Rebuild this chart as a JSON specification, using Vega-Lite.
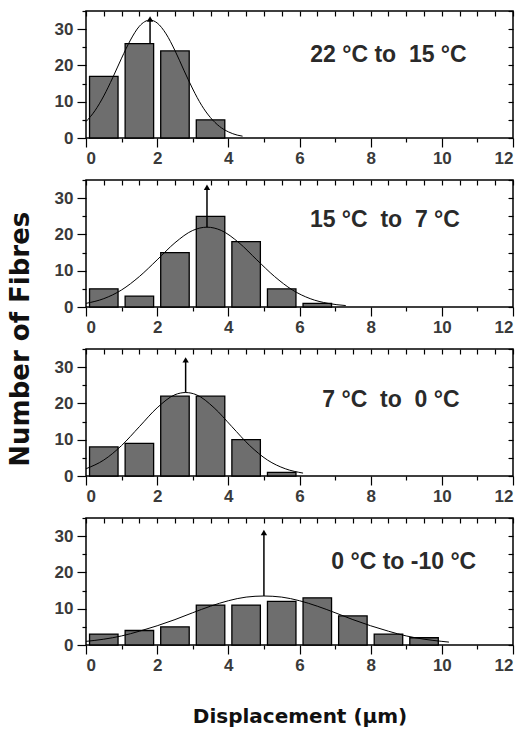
{
  "$schema": "https://vega.github.io/schema/vega-lite/v6.json",
  "padding": {"left": 8, "top": 9, "right": 4, "bottom": 2},
  "background": "white",
  "title": {"text": "Number of Fibres", "orient": "left", "anchor": "middle", "fontSize": 26, "fontWeight": "bold", "font": "DejaVu Sans", "color": "#111", "offset": 19, "dx": 29},
  "datasets": {
    "bars": [
      {"panel": 1, "mid": 0.5, "count": 17}, {"panel": 1, "mid": 1.5, "count": 26}, {"panel": 1, "mid": 2.5, "count": 24}, {"panel": 1, "mid": 3.5, "count": 5},
      {"panel": 2, "mid": 0.5, "count": 5}, {"panel": 2, "mid": 1.5, "count": 3}, {"panel": 2, "mid": 2.5, "count": 15}, {"panel": 2, "mid": 3.5, "count": 25}, {"panel": 2, "mid": 4.5, "count": 18}, {"panel": 2, "mid": 5.5, "count": 5}, {"panel": 2, "mid": 6.5, "count": 1},
      {"panel": 3, "mid": 0.5, "count": 8}, {"panel": 3, "mid": 1.5, "count": 9}, {"panel": 3, "mid": 2.5, "count": 22}, {"panel": 3, "mid": 3.5, "count": 22}, {"panel": 3, "mid": 4.5, "count": 10}, {"panel": 3, "mid": 5.5, "count": 1},
      {"panel": 4, "mid": 0.5, "count": 3}, {"panel": 4, "mid": 1.5, "count": 4}, {"panel": 4, "mid": 2.5, "count": 5}, {"panel": 4, "mid": 3.5, "count": 11}, {"panel": 4, "mid": 4.5, "count": 11}, {"panel": 4, "mid": 5.5, "count": 12}, {"panel": 4, "mid": 6.5, "count": 13}, {"panel": 4, "mid": 7.5, "count": 8}, {"panel": 4, "mid": 8.5, "count": 3}, {"panel": 4, "mid": 9.5, "count": 2}
    ],
    "curve": [
      {"panel": 1, "x": 0, "y": 4.5}, {"panel": 1, "x": 0.25, "y": 7.5}, {"panel": 1, "x": 0.5, "y": 11.6}, {"panel": 1, "x": 0.75, "y": 16.6}, {"panel": 1, "x": 1.0, "y": 22}, {"panel": 1, "x": 1.25, "y": 27}, {"panel": 1, "x": 1.5, "y": 30.8}, {"panel": 1, "x": 1.8, "y": 32.5}, {"panel": 1, "x": 2.0, "y": 31.7}, {"panel": 1, "x": 2.25, "y": 28.7}, {"panel": 1, "x": 2.5, "y": 24.1}, {"panel": 1, "x": 2.75, "y": 18.7}, {"panel": 1, "x": 3.0, "y": 13.5}, {"panel": 1, "x": 3.25, "y": 9}, {"panel": 1, "x": 3.5, "y": 5.6}, {"panel": 1, "x": 3.75, "y": 3.2}, {"panel": 1, "x": 4.0, "y": 1.7}, {"panel": 1, "x": 4.25, "y": 0.8}, {"panel": 1, "x": 4.4, "y": 0.5},
      {"panel": 2, "x": 0, "y": 1.0}, {"panel": 2, "x": 0.5, "y": 2.3}, {"panel": 2, "x": 1.0, "y": 4.7}, {"panel": 2, "x": 1.5, "y": 8.4}, {"panel": 2, "x": 2.0, "y": 13.0}, {"panel": 2, "x": 2.5, "y": 17.7}, {"panel": 2, "x": 3.0, "y": 21.1}, {"panel": 2, "x": 3.4, "y": 22}, {"panel": 2, "x": 3.8, "y": 21.1}, {"panel": 2, "x": 4.3, "y": 17.7}, {"panel": 2, "x": 4.8, "y": 13.0}, {"panel": 2, "x": 5.3, "y": 8.4}, {"panel": 2, "x": 5.8, "y": 4.7}, {"panel": 2, "x": 6.3, "y": 2.3}, {"panel": 2, "x": 6.8, "y": 1.0}, {"panel": 2, "x": 7.3, "y": 0.4},
      {"panel": 3, "x": 0, "y": 2.0}, {"panel": 3, "x": 0.5, "y": 4.4}, {"panel": 3, "x": 1.0, "y": 8.4}, {"panel": 3, "x": 1.5, "y": 13.6}, {"panel": 3, "x": 2.0, "y": 18.8}, {"panel": 3, "x": 2.5, "y": 22.4}, {"panel": 3, "x": 2.8, "y": 23}, {"panel": 3, "x": 3.1, "y": 22.4}, {"panel": 3, "x": 3.6, "y": 18.8}, {"panel": 3, "x": 4.1, "y": 13.6}, {"panel": 3, "x": 4.6, "y": 8.4}, {"panel": 3, "x": 5.1, "y": 4.4}, {"panel": 3, "x": 5.6, "y": 2.0}, {"panel": 3, "x": 6.1, "y": 0.8},
      {"panel": 4, "x": 0, "y": 1.0}, {"panel": 4, "x": 0.5, "y": 1.6}, {"panel": 4, "x": 1.0, "y": 2.5}, {"panel": 4, "x": 1.5, "y": 3.8}, {"panel": 4, "x": 2.0, "y": 5.3}, {"panel": 4, "x": 2.5, "y": 7.0}, {"panel": 4, "x": 3.0, "y": 8.9}, {"panel": 4, "x": 3.5, "y": 10.7}, {"panel": 4, "x": 4.0, "y": 12.2}, {"panel": 4, "x": 4.5, "y": 13.2}, {"panel": 4, "x": 5.0, "y": 13.5}, {"panel": 4, "x": 5.5, "y": 13.2}, {"panel": 4, "x": 6.0, "y": 12.2}, {"panel": 4, "x": 6.5, "y": 10.7}, {"panel": 4, "x": 7.0, "y": 8.9}, {"panel": 4, "x": 7.5, "y": 7.0}, {"panel": 4, "x": 8.0, "y": 5.3}, {"panel": 4, "x": 8.5, "y": 3.8}, {"panel": 4, "x": 9.0, "y": 2.5}, {"panel": 4, "x": 9.5, "y": 1.6}, {"panel": 4, "x": 10.0, "y": 1.0}, {"panel": 4, "x": 10.2, "y": 0.8}
    ],
    "arrows": [
      {"panel": 1, "x": 1.8, "y0": 26, "y1": 32.8},
      {"panel": 2, "x": 3.4, "y0": 22, "y1": 33},
      {"panel": 3, "x": 2.8, "y0": 23, "y1": 32},
      {"panel": 4, "x": 5.0, "y0": 13.5, "y1": 31}
    ],
    "labels": [
      {"panel": 1, "x": 8.5, "y": 23, "label": "22 °C to\u00a0 15 °C"},
      {"panel": 2, "x": 8.4, "y": 24, "label": "15 °C\u00a0 to\u00a0 7 °C"},
      {"panel": 3, "x": 8.57, "y": 21, "label": "7 °C\u00a0 to\u00a0 0 °C"},
      {"panel": 4, "x": 8.93, "y": 23, "label": "0 °C to -10 °C"}
    ]
  },
  "spacing": 11,
  "vconcat": [
    {
      "width": 427, "height": 127,
      "resolve": {"axis": {"x": "independent", "y": "independent"}},
      "layer": [
        {"data": {"name": "bars"}, "transform": [{"filter": "datum.panel == 1"}],
         "mark": {"type": "bar", "size": 28.5, "orient": "vertical", "fill": "#6e6e6e", "stroke": "black", "strokeWidth": 1.3},
         "encoding": {
           "x": {"field": "mid", "type": "quantitative", "scale": {"domain": [0, 12], "nice": false, "zero": false, "padding": 0}, "axis": {"values": [0,2,4,6,8,10,12], "tickSize": 9, "labelPadding": 3, "title": null}},
           "y": {"field": "count", "type": "quantitative", "scale": {"domain": [0, 35], "nice": false, "padding": 0}, "axis": {"values": [0,10,20,30], "tickSize": 9, "labelPadding": 4, "title": null}}
         }},
        {"data": {"name": "curve"}, "transform": [{"filter": "datum.panel == 1"}],
         "mark": {"type": "line", "interpolate": "monotone", "color": "black", "strokeWidth": 1},
         "encoding": {
           "x": {"field": "x", "type": "quantitative", "axis": {"orient": "top", "values": [0,0.5,1,1.5,2,2.5,3,3.5,4,4.5,5,5.5,6,6.5,7,7.5,8,8.5,9,9.5,10,10.5,11,11.5,12], "labels": false, "tickSize": -5, "title": null}},
           "y": {"field": "y", "type": "quantitative", "axis": {"orient": "right", "values": [0,5,10,15,20,25,30,35], "labels": false, "tickSize": -5, "title": null}}
         }},
        {"data": {"name": "arrows"}, "transform": [{"filter": "datum.panel == 1"}],
         "mark": {"type": "rule", "color": "black", "strokeWidth": 1.5},
         "encoding": {"x": {"field": "x", "type": "quantitative", "axis": {"values": [1,3,5,7,9,11], "labels": false, "tickSize": 4, "title": null}}, "y": {"field": "y0", "type": "quantitative", "axis": {"values": [5,15,25,35], "labels": false, "tickSize": 4, "title": null}}, "y2": {"field": "y1"}}},
        {"data": {"name": "arrows"}, "transform": [{"filter": "datum.panel == 1"}],
         "mark": {"type": "point", "shape": "triangle-up", "filled": true, "color": "black", "size": 40, "opacity": 1},
         "encoding": {"x": {"field": "x", "type": "quantitative", "axis": null}, "y": {"field": "y1", "type": "quantitative", "axis": null}}},
        {"data": {"name": "labels"}, "transform": [{"filter": "datum.panel == 1"}],
         "mark": {"type": "text", "fontSize": 23, "fontWeight": "bold", "color": "#2a2a2a", "baseline": "middle", "align": "center"},
         "encoding": {"x": {"field": "x", "type": "quantitative", "axis": null}, "y": {"field": "y", "type": "quantitative", "axis": null}, "text": {"field": "label"}}}
      ]
    },
    {
      "width": 427, "height": 127,
      "resolve": {"axis": {"x": "independent", "y": "independent"}},
      "layer": [
        {"data": {"name": "bars"}, "transform": [{"filter": "datum.panel == 2"}],
         "mark": {"type": "bar", "size": 28.5, "orient": "vertical", "fill": "#6e6e6e", "stroke": "black", "strokeWidth": 1.3},
         "encoding": {
           "x": {"field": "mid", "type": "quantitative", "scale": {"domain": [0, 12], "nice": false, "zero": false, "padding": 0}, "axis": {"values": [0,2,4,6,8,10,12], "tickSize": 9, "labelPadding": 3, "title": null}},
           "y": {"field": "count", "type": "quantitative", "scale": {"domain": [0, 35], "nice": false, "padding": 0}, "axis": {"values": [0,10,20,30], "tickSize": 9, "labelPadding": 4, "title": null}}
         }},
        {"data": {"name": "curve"}, "transform": [{"filter": "datum.panel == 2"}],
         "mark": {"type": "line", "interpolate": "monotone", "color": "black", "strokeWidth": 1},
         "encoding": {
           "x": {"field": "x", "type": "quantitative", "axis": {"orient": "top", "values": [0,0.5,1,1.5,2,2.5,3,3.5,4,4.5,5,5.5,6,6.5,7,7.5,8,8.5,9,9.5,10,10.5,11,11.5,12], "labels": false, "tickSize": -5, "title": null}},
           "y": {"field": "y", "type": "quantitative", "axis": {"orient": "right", "values": [0,5,10,15,20,25,30,35], "labels": false, "tickSize": -5, "title": null}}
         }},
        {"data": {"name": "arrows"}, "transform": [{"filter": "datum.panel == 2"}],
         "mark": {"type": "rule", "color": "black", "strokeWidth": 1.5},
         "encoding": {"x": {"field": "x", "type": "quantitative", "axis": {"values": [1,3,5,7,9,11], "labels": false, "tickSize": 4, "title": null}}, "y": {"field": "y0", "type": "quantitative", "axis": {"values": [5,15,25,35], "labels": false, "tickSize": 4, "title": null}}, "y2": {"field": "y1"}}},
        {"data": {"name": "arrows"}, "transform": [{"filter": "datum.panel == 2"}],
         "mark": {"type": "point", "shape": "triangle-up", "filled": true, "color": "black", "size": 40, "opacity": 1},
         "encoding": {"x": {"field": "x", "type": "quantitative", "axis": null}, "y": {"field": "y1", "type": "quantitative", "axis": null}}},
        {"data": {"name": "labels"}, "transform": [{"filter": "datum.panel == 2"}],
         "mark": {"type": "text", "fontSize": 23, "fontWeight": "bold", "color": "#2a2a2a", "baseline": "middle", "align": "center"},
         "encoding": {"x": {"field": "x", "type": "quantitative", "axis": null}, "y": {"field": "y", "type": "quantitative", "axis": null}, "text": {"field": "label"}}}
      ]
    },
    {
      "width": 427, "height": 127,
      "resolve": {"axis": {"x": "independent", "y": "independent"}},
      "layer": [
        {"data": {"name": "bars"}, "transform": [{"filter": "datum.panel == 3"}],
         "mark": {"type": "bar", "size": 28.5, "orient": "vertical", "fill": "#6e6e6e", "stroke": "black", "strokeWidth": 1.3},
         "encoding": {
           "x": {"field": "mid", "type": "quantitative", "scale": {"domain": [0, 12], "nice": false, "zero": false, "padding": 0}, "axis": {"values": [0,2,4,6,8,10,12], "tickSize": 9, "labelPadding": 3, "title": null}},
           "y": {"field": "count", "type": "quantitative", "scale": {"domain": [0, 35], "nice": false, "padding": 0}, "axis": {"values": [0,10,20,30], "tickSize": 9, "labelPadding": 4, "title": null}}
         }},
        {"data": {"name": "curve"}, "transform": [{"filter": "datum.panel == 3"}],
         "mark": {"type": "line", "interpolate": "monotone", "color": "black", "strokeWidth": 1},
         "encoding": {
           "x": {"field": "x", "type": "quantitative", "axis": {"orient": "top", "values": [0,0.5,1,1.5,2,2.5,3,3.5,4,4.5,5,5.5,6,6.5,7,7.5,8,8.5,9,9.5,10,10.5,11,11.5,12], "labels": false, "tickSize": -5, "title": null}},
           "y": {"field": "y", "type": "quantitative", "axis": {"orient": "right", "values": [0,5,10,15,20,25,30,35], "labels": false, "tickSize": -5, "title": null}}
         }},
        {"data": {"name": "arrows"}, "transform": [{"filter": "datum.panel == 3"}],
         "mark": {"type": "rule", "color": "black", "strokeWidth": 1.5},
         "encoding": {"x": {"field": "x", "type": "quantitative", "axis": {"values": [1,3,5,7,9,11], "labels": false, "tickSize": 4, "title": null}}, "y": {"field": "y0", "type": "quantitative", "axis": {"values": [5,15,25,35], "labels": false, "tickSize": 4, "title": null}}, "y2": {"field": "y1"}}},
        {"data": {"name": "arrows"}, "transform": [{"filter": "datum.panel == 3"}],
         "mark": {"type": "point", "shape": "triangle-up", "filled": true, "color": "black", "size": 40, "opacity": 1},
         "encoding": {"x": {"field": "x", "type": "quantitative", "axis": null}, "y": {"field": "y1", "type": "quantitative", "axis": null}}},
        {"data": {"name": "labels"}, "transform": [{"filter": "datum.panel == 3"}],
         "mark": {"type": "text", "fontSize": 23, "fontWeight": "bold", "color": "#2a2a2a", "baseline": "middle", "align": "center"},
         "encoding": {"x": {"field": "x", "type": "quantitative", "axis": null}, "y": {"field": "y", "type": "quantitative", "axis": null}, "text": {"field": "label"}}}
      ]
    },
    {
      "width": 427, "height": 127,
      "resolve": {"axis": {"x": "independent", "y": "independent"}},
      "layer": [
        {"data": {"name": "bars"}, "transform": [{"filter": "datum.panel == 4"}],
         "mark": {"type": "bar", "size": 28.5, "orient": "vertical", "fill": "#6e6e6e", "stroke": "black", "strokeWidth": 1.3},
         "encoding": {
           "x": {"field": "mid", "type": "quantitative", "scale": {"domain": [0, 12], "nice": false, "zero": false, "padding": 0}, "axis": {"values": [0,2,4,6,8,10,12], "tickSize": 9, "labelPadding": 3, "title": "Displacement (µm)", "titleFont": "DejaVu Sans", "titleFontSize": 20, "titleFontWeight": "bold", "titleColor": "#111", "titlePadding": 33}},
           "y": {"field": "count", "type": "quantitative", "scale": {"domain": [0, 35], "nice": false, "padding": 0}, "axis": {"values": [0,10,20,30], "tickSize": 9, "labelPadding": 4, "title": null}}
         }},
        {"data": {"name": "curve"}, "transform": [{"filter": "datum.panel == 4"}],
         "mark": {"type": "line", "interpolate": "monotone", "color": "black", "strokeWidth": 1},
         "encoding": {
           "x": {"field": "x", "type": "quantitative", "axis": {"orient": "top", "values": [0,0.5,1,1.5,2,2.5,3,3.5,4,4.5,5,5.5,6,6.5,7,7.5,8,8.5,9,9.5,10,10.5,11,11.5,12], "labels": false, "tickSize": -5, "title": null}},
           "y": {"field": "y", "type": "quantitative", "axis": {"orient": "right", "values": [0,5,10,15,20,25,30,35], "labels": false, "tickSize": -5, "title": null}}
         }},
        {"data": {"name": "arrows"}, "transform": [{"filter": "datum.panel == 4"}],
         "mark": {"type": "rule", "color": "black", "strokeWidth": 1.5},
         "encoding": {"x": {"field": "x", "type": "quantitative", "axis": {"values": [1,3,5,7,9,11], "labels": false, "tickSize": 4, "title": null}}, "y": {"field": "y0", "type": "quantitative", "axis": {"values": [5,15,25,35], "labels": false, "tickSize": 4, "title": null}}, "y2": {"field": "y1"}}},
        {"data": {"name": "arrows"}, "transform": [{"filter": "datum.panel == 4"}],
         "mark": {"type": "point", "shape": "triangle-up", "filled": true, "color": "black", "size": 40, "opacity": 1},
         "encoding": {"x": {"field": "x", "type": "quantitative", "axis": null}, "y": {"field": "y1", "type": "quantitative", "axis": null}}},
        {"data": {"name": "labels"}, "transform": [{"filter": "datum.panel == 4"}],
         "mark": {"type": "text", "fontSize": 23, "fontWeight": "bold", "color": "#2a2a2a", "baseline": "middle", "align": "center"},
         "encoding": {"x": {"field": "x", "type": "quantitative", "axis": null}, "y": {"field": "y", "type": "quantitative", "axis": null}, "text": {"field": "label"}}}
      ]
    }
  ],
  "config": {
    "font": "Liberation Sans",
    "view": {"stroke": "black", "strokeWidth": 1.5},
    "axis": {"grid": false, "domain": false, "labelFont": "Liberation Sans", "labelFontSize": 17, "labelFontWeight": "bold", "labelColor": "#3a3a3a", "tickColor": "black", "tickWidth": 1.2, "titleFont": "Liberation Sans", "labelOverlap": false}
  }
}
